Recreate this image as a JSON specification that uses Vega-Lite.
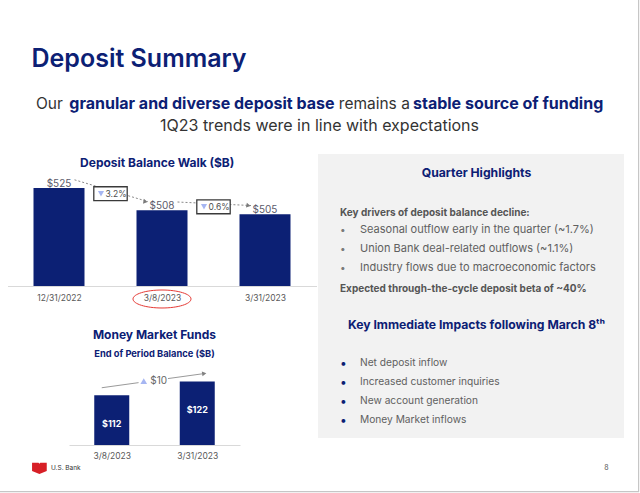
{
  "$schema": "https://vega.github.io/schema/vega-lite/v6.json",
  "width": 640,
  "height": 493,
  "padding": 0,
  "autosize": {"type": "none"},
  "background": "#ffffff",
  "config": {"view": {"stroke": null}, "font": "Inter"},
  "datasets": {
    "deposits": [
      {"date": "12/31/2022", "value": 525},
      {"date": "3/8/2023", "value": 508},
      {"date": "3/31/2023", "value": 505}
    ],
    "depositWalk": [
      {"from": "12/31/2022", "to": "3/8/2023", "from_value": 525, "to_value": 508, "change": "3.2%"},
      {"from": "3/8/2023", "to": "3/31/2023", "from_value": 508, "to_value": 505, "change": "0.6%"}
    ],
    "mmf": [
      {"date": "3/8/2023", "value": 112},
      {"date": "3/31/2023", "value": 122}
    ],
    "mmfWalk": [
      {"from": "3/8/2023", "to": "3/31/2023", "from_value": 112, "to_value": 122, "change": "$10"}
    ],
    "header": [
      {"block": "header", "line": 0, "seg": "title", "text": "Deposit Summary"},
      {"block": "header", "line": 2, "seg": "a", "text": "Our"},
      {"block": "header", "line": 2, "seg": "b", "text": "granular and diverse deposit base"},
      {"block": "header", "line": 2, "seg": "c", "text": "remains a"},
      {"block": "header", "line": 2, "seg": "d", "text": "stable source of funding"},
      {"block": "header", "line": 3, "seg": "sub", "text": "1Q23 trends were in line with expectations"}
    ],
    "panelBox": [{"panel": "Quarter Highlights"}],
    "panel": [
      {"panel": "Quarter Highlights", "line": 0, "kind": "heading", "text": "Quarter Highlights"},
      {"panel": "Quarter Highlights", "line": 2, "kind": "lead", "text": "Key drivers of deposit balance decline:"},
      {"panel": "Quarter Highlights", "line": 3, "kind": "driver", "text": "Seasonal outflow early in the quarter (~1.7%)"},
      {"panel": "Quarter Highlights", "line": 4, "kind": "driver", "text": "Union Bank deal-related outflows (~1.1%)"},
      {"panel": "Quarter Highlights", "line": 5, "kind": "driver", "text": "Industry flows due to macroeconomic factors"},
      {"panel": "Quarter Highlights", "line": 6, "kind": "lead", "text": "Expected through-the-cycle deposit beta of ~40%"},
      {"panel": "Quarter Highlights", "line": 8, "kind": "heading", "text": "Key Immediate Impacts following March 8ᵗʰ"},
      {"panel": "Quarter Highlights", "line": 10, "kind": "impact", "text": "Net deposit inflow"},
      {"panel": "Quarter Highlights", "line": 11, "kind": "impact", "text": "Increased customer inquiries"},
      {"panel": "Quarter Highlights", "line": 12, "kind": "impact", "text": "New account generation"},
      {"panel": "Quarter Highlights", "line": 13, "kind": "impact", "text": "Money Market inflows"}
    ],
    "footer": [{"footer": "U.S. Bank", "page": "8"}],
    "slide": [{"slide": "Deposit Summary"}]
  },
  "layer": [
    {
      "data": {"name": "slide"},
      "mark": {"type": "rect", "fillOpacity": 0, "stroke": "#c6c6c6", "strokeWidth": 1.2},
      "encoding": {
        "x": {"field": "slide", "type": "nominal", "scale": {"type": "band", "range": [-5, 638.6], "paddingInner": 0, "paddingOuter": 0}, "axis": null},
        "y": {"field": "slide", "type": "nominal", "scale": {"type": "band", "range": [-5, 491.6], "paddingInner": 0, "paddingOuter": 0}, "axis": null}
      }
    },
    {
      "data": {"name": "panelBox"},
      "mark": {"type": "rect", "color": "#f2f2f2"},
      "encoding": {
        "x": {"field": "panel", "type": "nominal", "scale": {"type": "band", "range": [318, 624], "paddingInner": 0, "paddingOuter": 0}, "axis": null},
        "y": {"field": "panel", "type": "nominal", "scale": {"type": "band", "range": [154, 438], "paddingInner": 0, "paddingOuter": 0}, "axis": null}
      }
    },
    {
      "data": {"name": "header"},
      "encoding": {
        "x": {"field": "block", "type": "nominal", "bandPosition": 0, "scale": {"type": "band", "range": [31.5, 607.5], "paddingInner": 0, "paddingOuter": 0}, "axis": null},
        "y": {"field": "line", "type": "quantitative", "scale": {"domain": [0, 3], "range": [59.2, 126]}, "axis": null},
        "text": {"field": "text"}
      },
      "layer": [
        {"transform": [{"filter": "datum.seg === 'title'"}], "mark": {"type": "text", "align": "left", "baseline": "middle", "fontSize": 25, "fontWeight": 600, "color": "#0c2074"}},
        {"transform": [{"filter": "datum.seg === 'a'"}], "mark": {"type": "text", "align": "left", "baseline": "middle", "fontSize": 15.5, "color": "#333333", "dx": 4.5}},
        {"transform": [{"filter": "datum.seg === 'b'"}], "mark": {"type": "text", "align": "left", "baseline": "middle", "fontSize": 16, "fontWeight": "bold", "color": "#0c2074", "dx": 37.8}},
        {"transform": [{"filter": "datum.seg === 'c'"}], "mark": {"type": "text", "align": "left", "baseline": "middle", "fontSize": 15.5, "color": "#333333", "dx": 307.3}},
        {"transform": [{"filter": "datum.seg === 'd'"}], "mark": {"type": "text", "align": "left", "baseline": "middle", "fontSize": 16, "fontWeight": "bold", "color": "#0c2074", "dx": 381.5}},
        {"transform": [{"filter": "datum.seg === 'sub'"}], "mark": {"type": "text", "align": "center", "baseline": "middle", "fontSize": 16, "color": "#333333"},
         "encoding": {"x": {"field": "block", "type": "nominal", "bandPosition": 0.5, "scale": {"type": "band", "range": [31.5, 607.5], "paddingInner": 0, "paddingOuter": 0}, "axis": null}}}
      ]
    },
    {
      "data": {"name": "deposits"},
      "encoding": {
        "x": {"field": "date", "type": "nominal", "title": null, "scale": {"type": "point", "domain": ["12/31/2022", "3/8/2023", "3/31/2023"], "range": [7.5, 316.5], "padding": 0.5},
              "axis": {"orient": "bottom", "offset": -207, "title": null, "ticks": false, "grid": false, "domainColor": "#d9d9d9", "labelColor": "#595959", "labelFont": "Inter", "labelFontSize": 8.5, "labelPadding": 7.5, "labelAngle": 0}},
        "y": {"field": "value", "type": "quantitative", "scale": {"domain": [450, 540], "range": [286, 168.4], "zero": false, "nice": false}, "axis": null}
      },
      "layer": [
        {"mark": {"type": "bar", "color": "#0c2074", "size": 51}, "encoding": {"y2": {"datum": 450}}},
        {"mark": {"type": "text", "fontSize": 10, "color": "#5b5b6b", "baseline": "alphabetic", "dy": -1.5},
         "encoding": {"text": {"field": "value", "type": "quantitative", "format": "$.0f"}}},
        {"data": {"name": "depositWalk"},
         "mark": {"type": "rule", "color": "#8a8a8a", "strokeWidth": 1, "strokeDash": [2, 2], "xOffset": 15.5, "yOffset": -8.2, "x2Offset": -14, "y2Offset": -8.6},
         "encoding": {
           "x": {"field": "from", "type": "nominal", "title": null, "scale": {"type": "point", "domain": ["12/31/2022", "3/8/2023", "3/31/2023"], "range": [7.5, 316.5], "padding": 0.5},
                 "axis": {"orient": "bottom", "offset": -207, "title": null, "ticks": false, "grid": false, "domainColor": "#d9d9d9", "labelColor": "#595959", "labelFont": "Inter", "labelFontSize": 8.5, "labelPadding": 7.5, "labelAngle": 0}},
           "x2": {"field": "to"},
           "y": {"field": "from_value", "type": "quantitative", "scale": {"domain": [450, 540], "range": [286, 168.4], "zero": false, "nice": false}, "axis": null},
           "y2": {"field": "to_value"}
         }},
        {"data": {"name": "depositWalk"},
         "mark": {"type": "point", "shape": "triangle-right", "size": 24, "filled": true, "color": "#7a7a7a", "opacity": 1, "angle": 10, "xOffset": -16.5, "yOffset": -8.6},
         "encoding": {
           "x": {"field": "to", "type": "nominal", "title": null, "scale": {"type": "point", "domain": ["12/31/2022", "3/8/2023", "3/31/2023"], "range": [7.5, 316.5], "padding": 0.5},
                 "axis": {"orient": "bottom", "offset": -207, "title": null, "ticks": false, "grid": false, "domainColor": "#d9d9d9", "labelColor": "#595959", "labelFont": "Inter", "labelFontSize": 8.5, "labelPadding": 7.5, "labelAngle": 0}},
           "y": {"field": "to_value", "type": "quantitative", "scale": {"domain": [450, 540], "range": [286, 168.4], "zero": false, "nice": false}, "axis": null}
         }},
        {"data": {"name": "depositWalk"},
         "transform": [
           {"fold": ["from_value", "to_value"], "as": ["end", "level"]},
           {"aggregate": [{"op": "mean", "field": "level", "as": "mid_level"}], "groupby": ["from", "change"]}
         ],
         "encoding": {
           "x": {"field": "from", "type": "nominal", "title": null, "scale": {"type": "point", "domain": ["12/31/2022", "3/8/2023", "3/31/2023"], "range": [7.5, 316.5], "padding": 0.5},
                 "axis": {"orient": "bottom", "offset": -207, "title": null, "ticks": false, "grid": false, "domainColor": "#d9d9d9", "labelColor": "#595959", "labelFont": "Inter", "labelFontSize": 8.5, "labelPadding": 7.5, "labelAngle": 0}},
           "y": {"field": "mid_level", "type": "quantitative", "scale": {"domain": [450, 540], "range": [286, 168.4], "zero": false, "nice": false}, "axis": null}
         },
         "layer": [
           {"mark": {"type": "point", "shape": "M-1.2,-0.5H1.2V0.5H-1.2Z", "size": 775, "filled": true, "fill": "#ffffff", "stroke": "#3a3a3a", "strokeWidth": 1.3, "opacity": 1, "xOffset": 51.5, "yOffset": -5.4}},
           {"mark": {"type": "point", "shape": "triangle-down", "size": 38, "filled": true, "color": "#a6b6f2", "opacity": 1, "xOffset": 42, "yOffset": -5.4}},
           {"mark": {"type": "text", "fontSize": 8.5, "color": "#4f4f4f", "baseline": "middle", "dx": 57, "dy": -5.4}, "encoding": {"text": {"field": "change"}}}
         ]},
        {"transform": [{"filter": {"field": "date", "equal": "3/8/2023"}}],
         "mark": {"type": "text", "fontSize": 12, "fontWeight": "bold", "color": "#0c2074", "baseline": "middle", "dx": -4.8, "dy": -5},
         "encoding": {
           "y": {"datum": 540, "type": "quantitative", "scale": {"domain": [450, 540], "range": [286, 168.4], "zero": false, "nice": false}, "axis": null},
           "text": {"value": "Deposit Balance Walk ($B)"}
         }},
        {"transform": [{"filter": {"field": "date", "equal": "3/8/2023"}}],
         "mark": {"type": "point", "shape": "M-1,0A1,0.31,0,1,1,1,0A1,0.31,0,1,1,-1,0Z", "size": 3364, "filled": false, "stroke": "#e53a35", "strokeWidth": 1, "opacity": 1, "yOffset": 13},
         "encoding": {"y": {"datum": 450, "type": "quantitative", "scale": {"domain": [450, 540], "range": [286, 168.4], "zero": false, "nice": false}, "axis": null}}}
      ]
    },
    {
      "data": {"name": "mmf"},
      "encoding": {
        "x": {"field": "date", "type": "nominal", "title": null, "scale": {"type": "point", "domain": ["3/8/2023", "3/31/2023"], "range": [69, 240], "padding": 0.5},
              "axis": {"orient": "bottom", "offset": -48, "title": null, "ticks": false, "grid": false, "domainColor": "#d9d9d9", "labelColor": "#595959", "labelFont": "Inter", "labelFontSize": 8.5, "labelPadding": 6.5, "labelAngle": 0}},
        "y": {"field": "value", "type": "quantitative", "scale": {"domain": [76, 134], "range": [445, 365], "zero": false, "nice": false}, "axis": null}
      },
      "layer": [
        {"mark": {"type": "bar", "color": "#0c2074", "size": 35}, "encoding": {"y2": {"datum": 76}}},
        {"mark": {"type": "text", "fontSize": 9, "fontWeight": "bold", "color": "#ffffff", "baseline": "middle", "dy": 28.5},
         "encoding": {"text": {"field": "value", "type": "quantitative", "format": "$.0f"}}},
        {"data": {"name": "mmfWalk"},
         "mark": {"type": "rule", "color": "#9a9a9a", "strokeWidth": 1, "xOffset": -10, "yOffset": -7.6, "x2Offset": 7, "y2Offset": -8},
         "encoding": {
           "x": {"field": "from", "type": "nominal", "title": null, "scale": {"type": "point", "domain": ["3/8/2023", "3/31/2023"], "range": [69, 240], "padding": 0.5},
                 "axis": {"orient": "bottom", "offset": -48, "title": null, "ticks": false, "grid": false, "domainColor": "#d9d9d9", "labelColor": "#595959", "labelFont": "Inter", "labelFontSize": 8.5, "labelPadding": 6.5, "labelAngle": 0}},
           "x2": {"field": "to"},
           "y": {"field": "from_value", "type": "quantitative", "scale": {"domain": [76, 134], "range": [445, 365], "zero": false, "nice": false}, "axis": null},
           "y2": {"field": "to_value"}
         }},
        {"data": {"name": "mmfWalk"},
         "mark": {"type": "point", "shape": "triangle-right", "size": 24, "filled": true, "color": "#808080", "opacity": 1, "angle": -8, "xOffset": 7, "yOffset": -8},
         "encoding": {
           "x": {"field": "to", "type": "nominal", "title": null, "scale": {"type": "point", "domain": ["3/8/2023", "3/31/2023"], "range": [69, 240], "padding": 0.5},
                 "axis": {"orient": "bottom", "offset": -48, "title": null, "ticks": false, "grid": false, "domainColor": "#d9d9d9", "labelColor": "#595959", "labelFont": "Inter", "labelFontSize": 8.5, "labelPadding": 6.5, "labelAngle": 0}},
           "y": {"field": "to_value", "type": "quantitative", "scale": {"domain": [76, 134], "range": [445, 365], "zero": false, "nice": false}, "axis": null}
         }},
        {"data": {"name": "mmfWalk"},
         "transform": [
           {"fold": ["from_value", "to_value"], "as": ["end", "level"]},
           {"aggregate": [{"op": "mean", "field": "level", "as": "mid_level"}], "groupby": ["from", "change"]}
         ],
         "encoding": {
           "x": {"field": "from", "type": "nominal", "title": null, "scale": {"type": "point", "domain": ["3/8/2023", "3/31/2023"], "range": [69, 240], "padding": 0.5},
                 "axis": {"orient": "bottom", "offset": -48, "title": null, "ticks": false, "grid": false, "domainColor": "#d9d9d9", "labelColor": "#595959", "labelFont": "Inter", "labelFontSize": 8.5, "labelPadding": 6.5, "labelAngle": 0}},
           "y": {"field": "mid_level", "type": "quantitative", "scale": {"domain": [76, 134], "range": [445, 365], "zero": false, "nice": false}, "axis": null}
         },
         "layer": [
           {"mark": {"type": "point", "shape": "M-1.2,-0.5H1.2V0.5H-1.2Z", "size": 600, "filled": true, "fill": "#ffffff", "strokeWidth": 0, "opacity": 1, "xOffset": 41.5, "yOffset": -7.4}},
           {"mark": {"type": "point", "shape": "triangle-up", "size": 45, "filled": true, "color": "#a6b6f2", "opacity": 1, "xOffset": 32, "yOffset": -7.4}},
           {"mark": {"type": "text", "fontSize": 10, "color": "#666666", "align": "left", "baseline": "middle", "dx": 38.5, "dy": -7.4}, "encoding": {"text": {"field": "change"}}}
         ]},
        {"transform": [{"filter": {"field": "date", "equal": "3/8/2023"}}],
         "mark": {"type": "text", "fontSize": 12, "fontWeight": "bold", "color": "#0c2074", "baseline": "middle", "dx": 42.75, "dy": -30},
         "encoding": {
           "y": {"datum": 134, "type": "quantitative", "scale": {"domain": [76, 134], "range": [445, 365], "zero": false, "nice": false}, "axis": null},
           "text": {"value": "Money Market Funds"}
         }},
        {"transform": [{"filter": {"field": "date", "equal": "3/8/2023"}}],
         "mark": {"type": "text", "fontSize": 9.3, "fontWeight": "bold", "color": "#0c2074", "baseline": "middle", "dx": 42.75, "dy": -11.5},
         "encoding": {
           "y": {"datum": 134, "type": "quantitative", "scale": {"domain": [76, 134], "range": [445, 365], "zero": false, "nice": false}, "axis": null},
           "text": {"value": "End of Period Balance ($B)"}
         }}
      ]
    },
    {
      "data": {"name": "panel"},
      "encoding": {
        "x": {"field": "panel", "type": "nominal", "bandPosition": 0, "scale": {"type": "band", "range": [318, 624], "paddingInner": 0, "paddingOuter": 0}, "axis": null},
        "y": {"field": "line", "type": "quantitative", "scale": {"domain": [0, 13], "range": [172.7, 420.3]}, "axis": null},
        "text": {"field": "text"}
      },
      "layer": [
        {"transform": [{"filter": "datum.kind === 'heading'"}],
         "mark": {"type": "text", "align": "center", "baseline": "middle", "fontSize": 12.2, "fontWeight": "bold", "color": "#0c2074", "dx": 5.5},
         "encoding": {"x": {"field": "panel", "type": "nominal", "bandPosition": 0.5, "scale": {"type": "band", "range": [318, 624], "paddingInner": 0, "paddingOuter": 0}, "axis": null}}},
        {"transform": [{"filter": "datum.kind === 'lead'"}],
         "mark": {"type": "text", "align": "left", "baseline": "middle", "fontSize": 10, "fontWeight": "bold", "color": "#555555", "dx": 22, "dy": 2.5}},
        {"transform": [{"filter": "datum.kind === 'driver'"}],
         "mark": {"type": "text", "align": "left", "baseline": "middle", "fontSize": 11, "color": "#606060", "dx": 42}},
        {"transform": [{"filter": "datum.kind === 'impact'"}],
         "mark": {"type": "text", "align": "left", "baseline": "middle", "fontSize": 10.2, "color": "#606060", "dx": 42}},
        {"transform": [{"filter": "datum.kind === 'driver'"}],
         "mark": {"type": "text", "align": "left", "baseline": "middle", "fontSize": 10, "color": "#7a7a7a", "dx": 22},
         "encoding": {"text": {"value": "•"}}},
        {"transform": [{"filter": "datum.kind === 'impact'"}],
         "mark": {"type": "text", "align": "left", "baseline": "middle", "fontSize": 12, "color": "#0c2074", "dx": 22},
         "encoding": {"text": {"value": "•"}}}
      ]
    },
    {
      "data": {"name": "footer"},
      "encoding": {
        "x": {"field": "footer", "type": "nominal", "bandPosition": 0, "scale": {"type": "band", "range": [32, 608], "paddingInner": 0, "paddingOuter": 0}, "axis": null},
        "y": {"field": "footer", "type": "nominal", "bandPosition": 0.5, "scale": {"type": "band", "range": [462, 474], "paddingInner": 0, "paddingOuter": 0}, "axis": null}
      },
      "layer": [
        {"mark": {"type": "point", "shape": "M-1,-0.72L-0.12,-0.72L0,-0.58L0.12,-0.72L1,-0.72L1,0.42L0,0.8L-1,0.42Z", "size": 216, "filled": true, "color": "#d71f26", "opacity": 1, "xOffset": 7.4}},
        {"mark": {"type": "text", "align": "left", "baseline": "middle", "fontSize": 6.5, "color": "#333333", "dx": 19}, "encoding": {"text": {"field": "footer"}}},
        {"mark": {"type": "text", "align": "center", "baseline": "middle", "fontSize": 7, "color": "#555555", "dx": -1.7},
         "encoding": {"x": {"field": "footer", "type": "nominal", "bandPosition": 1, "scale": {"type": "band", "range": [32, 608], "paddingInner": 0, "paddingOuter": 0}, "axis": null}, "text": {"field": "page"}}}
      ]
    }
  ],
  "resolve": {
    "scale": {"x": "independent", "y": "independent"},
    "axis": {"x": "independent", "y": "independent"}
  }
}
